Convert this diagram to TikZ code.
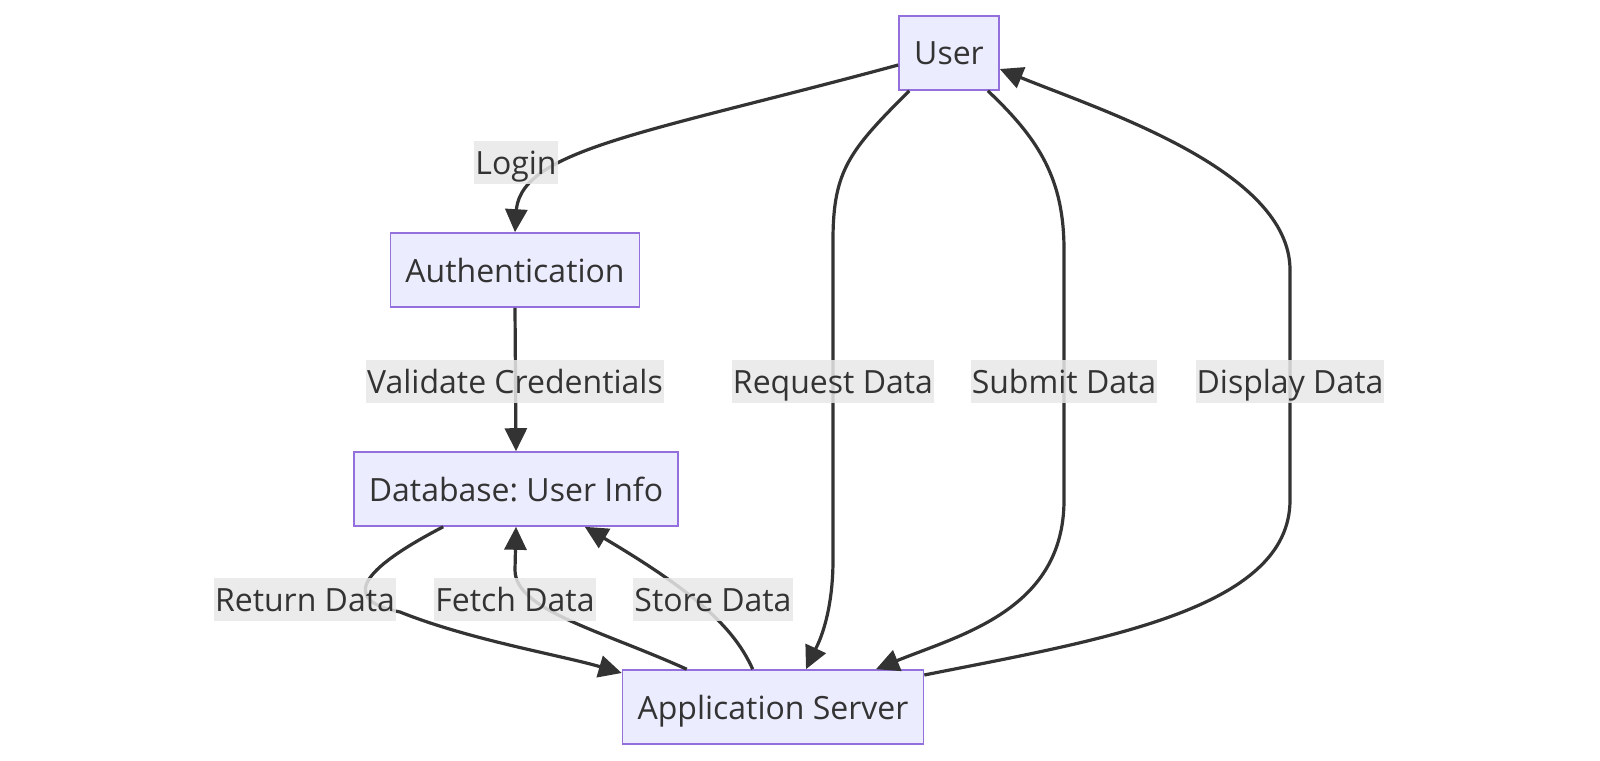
\documentclass[tikz,border=0pt]{standalone}
\usepackage{fontspec}
\setmainfont{Open Sans}
\usetikzlibrary{arrows.meta,calc}
\definecolor{nodefill}{HTML}{ECECFF}
\definecolor{nodeline}{HTML}{9370DB}
\definecolor{edgecol}{HTML}{333333}
\definecolor{lblfill}{HTML}{E8E8E8}
\frenchspacing
\begin{document}
\begin{tikzpicture}[x=1pt,y=-1pt,
 box/.style={draw=nodeline,fill=nodefill,line width=1.6pt,text height=27pt,text depth=3pt,inner ysep=22pt,inner xsep=0pt,text=edgecol,font=\fontsize{32}{38}\selectfont},
 lbl/.style={fill=lblfill,fill opacity=0.85,text opacity=1,text=edgecol,inner xsep=1pt,text height=27pt,text depth=3pt,inner ysep=6.5pt,font=\fontsize{32}{38}\selectfont},
 arr/.style={draw=edgecol,line width=3.2pt,-{Triangle[length=23pt,width=22pt]}}]
\useasboundingbox (0,0) rectangle (1600,760);
\fill[white] (0,0) rectangle (1600,760);
\node[box,minimum width=100pt] (U) at (949,53) {User};
\node[box,minimum width=249pt] (A) at (515,270) {Authentication};
\node[box,minimum width=324pt] (D) at (516,489) {Database: User Info};
\node[box,minimum width=301pt] (S) at (773,707) {Application Server};
% edges
\draw[arr] ($(U.west)+(0,12)$) .. controls (640,135) and (516,150) .. (516,215) -- (A.north);
\draw[arr] (A.south) -- (D.north);
\draw[arr] ($(U.south west)+(11,0)$) .. controls (850,150) and (833,170) .. (833,240) -- (833,560) .. controls (833,620) and (815,650) .. ($(S.north)+(33,0)$);
\draw[arr] ($(U.south east)+(-12,0)$) .. controls (1040,140) and (1064,180) .. (1064,250) -- (1064,500) .. controls (1064,610) and (960,635) .. ($(S.north)+(103,0)$);
\draw[arr] ($(S.east)+(0,-32)$) .. controls (1100,640) and (1290,610) .. (1290,500) -- (1290,270) .. controls (1290,170) and (1100,110) .. ($(U.east)+(0,16)$);
\draw[arr] ($(D.south west)+(90,0)$) .. controls (360,570) and (340,600) .. (400,612) .. controls (470,640) and (560,655) .. ($(S.west)+(0,-34)$);
\draw[arr] ($(S.north west)+(65,0)$) .. controls (600,630) and (515,610) .. (515,570) -- (D.south);
\draw[arr] ($(S.north west)+(131,0)$) .. controls (735,630) and (700,595) .. ($(D.south east)+(-94,0)$);
% labels
\node[lbl] (l1) at (516,162) {Login};
\node[lbl] (l2) at (515,381) {Validate Credentials};
\node[lbl] (l3) at (833,381) {Request Data};
\node[lbl] (l4) at (1064,381) {Submit Data};
\node[lbl] (l5) at (1290,381) {Display Data};
\node[lbl] (l6) at (305,599) {Return Data};
\node[lbl] (l7) at (515,599) {Fetch Data};
\node[lbl] (l8) at (713,599) {Store Data};
\end{tikzpicture}
\end{document}
